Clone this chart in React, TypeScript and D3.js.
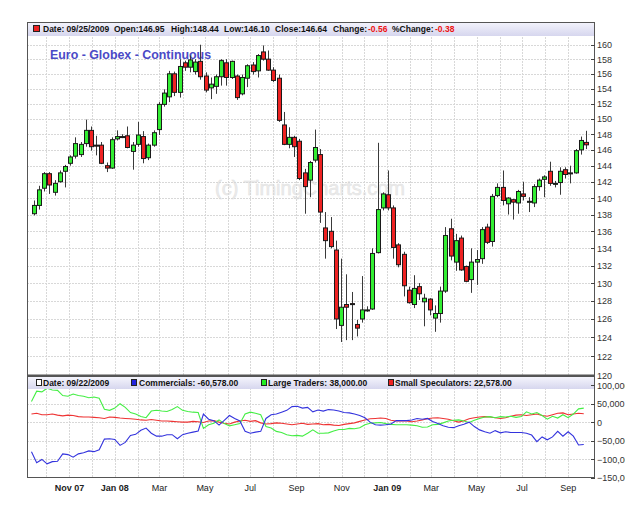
import React, { useRef, useEffect } from "react";
import * as d3 from "d3";

/* weekly OHLC, Euro Globex continuous, first week ending 09/14/2007 */
const opens = [
  138.1, 139.1, 141.2, 143.0, 140.7, 142.0, 143.3, 144.3, 145.2, 145.4,
  146.8, 148.5, 146.6, 146.6, 144.0, 143.7, 147.4, 147.7, 147.8, 145.8,
  146.7, 147.7, 145.0, 146.6, 148.6, 151.9, 152.9, 156.0, 153.5, 157.5,
  156.9, 156.3, 157.7, 155.7, 154.1, 154.3, 155.6, 157.5, 155.5, 155.7,
  153.3, 155.4, 157.2, 156.4, 159.0, 158.0, 156.5, 155.4, 149.2, 146.7,
  147.6, 147.1, 143.1, 142.2, 144.7, 145.4, 136.4, 136.0, 133.8, 125.3,
  127.6, 127.7, 125.4, 126.0, 127.0, 127.1, 133.5, 138.8, 140.4, 138.8,
  134.4, 133.3, 129.2, 127.6, 129.6, 127.9, 128.2, 126.1, 126.6, 129.1,
  136.3, 132.4, 135.2, 131.9, 130.4, 132.4, 132.8, 136.5, 134.8, 140.3,
  141.3, 139.3, 139.8, 139.4, 140.5, 139.6, 139.4, 141.4, 142.3, 143.3,
  141.8, 141.9, 143.5, 143.1, 143.1, 146.0, 146.95,
];
const highs = [
  139.7, 141.5, 143.2, 143.2, 142.2, 143.4, 144.1, 145.3, 147.6, 147.0,
  149.9, 149.0, 147.8, 147.0, 144.4, 147.6, 148.5, 148.0, 149.0, 147.0,
  149.6, 148.4, 146.8, 148.5, 152.2, 153.9, 156.4, 156.3, 158.0, 157.8,
  158.5, 158.0, 160.0, 156.2, 155.5, 155.9, 158.0, 158.0, 157.8, 155.9,
  155.9, 157.3, 157.6, 158.7, 159.9, 159.2, 156.9, 155.9, 150.9, 148.9,
  147.8, 147.4, 143.6, 144.6, 148.6, 146.1, 138.3, 137.7, 134.9, 132.8,
  131.0, 129.0, 125.9, 130.8, 127.4, 134.0, 146.9, 140.7, 143.4, 139.1,
  134.6, 133.6, 129.6, 130.9, 130.0, 128.8, 128.3, 127.5, 129.6, 136.5,
  137.5, 135.7, 135.5, 132.0, 134.0, 133.8, 136.5, 136.9, 140.5, 141.8,
  143.4, 140.1, 139.9, 141.0, 142.0, 140.1, 141.7, 142.4, 142.8, 144.5,
  142.1, 143.8, 143.8, 144.0, 146.1, 147.7, 148.44,
];
const lows = [
  137.9, 138.6, 140.8, 140.5, 140.3, 141.9, 141.3, 144.0, 144.9, 145.1,
  146.4, 145.9, 145.3, 144.2, 143.2, 143.6, 147.2, 147.5, 146.2, 143.5,
  146.4, 144.3, 144.7, 146.4, 147.9, 151.6, 152.2, 153.0, 152.8, 156.4,
  156.2, 155.9, 155.2, 153.5, 152.6, 153.3, 154.4, 154.4, 155.3, 152.5,
  153.1, 154.2, 155.9, 155.5, 157.8, 156.4, 154.9, 149.6, 146.6, 146.2,
  145.1, 142.2, 138.1, 140.1, 144.4, 137.0, 132.8, 134.0, 124.9, 123.5,
  123.7, 123.7, 124.1, 125.6, 126.8, 127.0, 133.4, 138.5, 138.5, 132.8,
  131.8, 128.5, 127.7, 127.2, 128.1, 125.2, 126.4, 124.6, 125.6, 128.9,
  132.6, 131.4, 131.4, 130.1, 128.9, 129.8, 132.2, 134.5, 134.2, 140.1,
  139.1, 138.0, 137.4, 138.1, 139.7, 138.3, 138.9, 140.9, 140.1, 141.5,
  141.3, 140.4, 142.4, 141.8, 143.0, 145.4, 146.1,
];
const closes = [
  139.1, 141.0, 143.0, 141.6, 141.8, 143.1, 143.9, 145.1, 146.8, 146.7,
  148.5, 146.4, 146.5, 144.3, 143.7, 147.3, 147.7, 147.7, 146.3, 146.6,
  147.9, 144.9, 146.6, 148.2, 151.9, 153.4, 156.0, 153.5, 157.0, 156.9,
  157.9, 157.6, 155.6, 153.8, 154.6, 155.6, 157.8, 155.5, 157.7, 152.8,
  155.5, 157.1, 156.3, 158.5, 158.0, 156.5, 155.1, 149.8, 146.7, 147.6,
  146.4, 142.4, 141.4, 144.4, 146.3, 138.3, 134.9, 134.2, 126.0, 127.3,
  127.3, 127.6, 125.0, 127.0, 127.0, 133.4, 138.6, 140.5, 138.8, 134.1,
  132.1, 129.7, 127.8, 129.4, 128.8, 128.3, 127.0, 126.6, 129.1, 135.5,
  133.1, 134.9, 131.5, 130.2, 132.4, 132.7, 136.2, 134.7, 140.2, 141.3,
  139.7, 140.0, 139.5, 140.8, 140.2, 139.6, 141.4, 142.2, 142.6, 141.8,
  141.8, 143.3, 142.9, 143.1, 145.9, 147.2, 146.64,
];

/* COT net positions, weekly (Tuesday) */
const commercials = [
  -80000, -110000, -101000, -113000, -107000, -106000, -86000, -88000, -95000, -86000,
  -83000, -78000, -80000, -75000, -46000, -45000, -47000, -63000, -55000, -36000,
  -33000, -22000, -16000, -30000, -38000, -38000, -34000, -34000, -45000, -34000,
  -30000, -27000, -24000, 22000, 8000, 4000, -8000, 5000, 18000, 10000,
  3000, -25000, -30000, -27000, -25000, 10000, 20000, 22000, 27000, 32000,
  42000, 43000, 38000, 40000, 28000, 33000, 30000, 34000, 33000, 30000,
  26000, 25000, 22000, 18000, 12000, 0, -7000, -8000, -7000, -5000,
  4000, 4000, 4000, 6000, 10000, 8000, 10000, 2000, -4000, -10000,
  -14000, -15000, -10000, -6000, 0, -12000, -21000, -26000, -30000, -23000,
  -29000, -26000, -28000, -28000, -28000, -30000, -35000, -53000, -40000, -48000,
  -40000, -25000, -38000, -26000, -38000, -62000, -60578,
];
const largeTraders = [
  56000, 84000, 82000, 92000, 87000, 86000, 72000, 70000, 76000, 72000,
  70000, 66000, 68000, 65000, 35000, 32000, 38000, 50000, 40000, 26000,
  22000, 15000, 12000, 30000, 32000, 30000, 29000, 34000, 42000, 32000,
  29000, 27000, 26000, -17000, -7000, -3000, 6000, -4000, -10000, -7000,
  -4000, 22000, 27000, 24000, 20000, -12000, -16000, -25000, -28000, -34000,
  -37000, -36000, -38000, -30000, -21000, -30000, -30000, -29000, -24000, -20000,
  -20000, -17000, -18000, -15000, -7000, -3000, -2000, -1000, -4000, -6000,
  -7000, -7000, -7000, -8000, -10000, -14000, -13000, -7000, -6000, -2000,
  3000, 5000, 6000, 3000, -1000, 5000, 10000, 14000, 15000, 12000,
  15000, 14000, 16000, 13000, 15000, 28000, 22000, 26000, 18000, 8000,
  16000, 11000, 20000, 12000, 22000, 36000, 38000,
];
const smallSpeculators = [
  22000, 24000, 20000, 20000, 22000, 19000, 17000, 19000, 18000, 15000,
  14000, 14000, 13000, 12000, 10000, 14000, 13000, 11000, 10000, 9000,
  8000, 6000, 5000, 7000, 5000, 3000, 3000, 2000, 1000, 0,
  0, 2000, 1000, -1000, 3000, 4000, 0, -3000, -5000, 0,
  3000, 5000, 2000, 4000, -2000, -5000, -4000, -2000, -3000, -5000,
  -7000, -5000, -3000, -6000, -5000, -4000, -7000, -6000, -8000, -9000,
  -6000, -4000, -2000, 2000, 6000, 9000, 10000, 11000, 10000, 5000,
  3000, 4000, 3000, 1000, 3000, 6000, 9000, 11000, 12000, 10000,
  8000, 4000, 0, 4000, 9000, 12000, 14000, 15000, 14000, 12000,
  10000, 12000, 16000, 19000, 20000, 18000, 20000, 22000, 18000, 16000,
  20000, 24000, 25000, 20000, 22000, 24000, 22578,
];

const priceTicks = d3.range(120, 161, 2);
const cotTicks = [100000, 50000, 0, -50000, -100000, -150000];
const monthLabels = ["Nov 07", "Jan 08", "Mar", "May", "Jul", "Sep", "Nov", "Jan 09", "Mar", "May", "Jul", "Sep"];

const FONT = "'Liberation Sans', Arial, sans-serif";

const App = () => {
  const svgRef = useRef(null);

  const drawChart = () => {
    const svg = d3.select(svgRef.current);
    svg.selectAll("*").remove();

    const left = 27;
    const right = 595;
    const top = 22;
    const mainBottom = 375;
    const lowTop = 376;
    const lowBottom = 477;

    const firstWeek = new Date(2007, 8, 14);
    const weeks = opens.map((_, i) => d3.timeDay.offset(firstWeek, 7 * i));
    const cotWeeks = weeks.map((d) => d3.timeDay.offset(d, -3));

    const x = d3
      .scaleTime()
      .domain([weeks[0], weeks[weeks.length - 1]])
      .range([33.7, 586]);
    const y = d3.scaleLog().domain([120, 163.2]).range([mainBottom, top]);
    const yc = d3.scaleLinear().domain([-150000, 125000]).range([lowBottom + 0.5, lowTop]);

    const months = d3.timeMonth.range(new Date(2007, 9, 1), new Date(2009, 9, 1));
    const labelMonths = d3.timeMonth.every(2).range(new Date(2007, 10, 1), new Date(2009, 9, 1));

    /* gradients for header bands */
    const defs = svg.append("defs");
    const grad = defs
      .append("linearGradient")
      .attr("id", "band")
      .attr("x1", 0)
      .attr("y1", 0)
      .attr("x2", 0)
      .attr("y2", 1);
    grad.append("stop").attr("offset", "0%").attr("stop-color", "#f4f4fc");
    grad.append("stop").attr("offset", "100%").attr("stop-color", "#d6d6ee");

    svg.append("rect").attr("width", 625).attr("height", 505).attr("fill", "#ffffff");

    /* main panel */
    const main = svg.append("g");
    main
      .append("rect")
      .attr("x", left)
      .attr("y", top)
      .attr("width", right - left)
      .attr("height", mainBottom - top)
      .attr("fill", "#ffffff");

    /* watermark */
    main
      .append("text")
      .attr("x", 215)
      .attr("y", 195)
      .style("font-family", FONT)
      .style("font-size", "20px")
      .attr("fill", "#ececec")
      .attr("stroke", "#e2e2e2")
      .attr("stroke-width", 0.5)
      .text("(c) TimingCharts.com");

    /* grid */
    main
      .selectAll(".hgrid")
      .data(priceTicks.filter((t) => t > 120))
      .enter()
      .append("line")
      .attr("x1", left)
      .attr("x2", right)
      .attr("y1", (d) => Math.round(y(d)) + 0.5)
      .attr("y2", (d) => Math.round(y(d)) + 0.5)
      .attr("stroke", "#d8d8d8")
      .attr("stroke-dasharray", "2,1");
    main
      .selectAll(".vgrid")
      .data(months)
      .enter()
      .append("line")
      .attr("x1", (d) => Math.round(x(d)) + 0.5)
      .attr("x2", (d) => Math.round(x(d)) + 0.5)
      .attr("y1", top)
      .attr("y2", mainBottom)
      .attr("stroke", "#d8d8d8")
      .attr("stroke-dasharray", "2,1");

    /* title */
    main
      .append("text")
      .attr("x", 50)
      .attr("y", 59)
      .style("font-family", FONT)
      .style("font-size", "12.4px")
      .style("font-weight", "bold")
      .attr("fill", "#4a4ac6")
      .text("Euro - Globex - Continuous");

    /* candles */
    const candles = main
      .selectAll(".candle")
      .data(opens.map((o, i) => i))
      .enter()
      .append("g");
    candles
      .append("line")
      .attr("x1", (i) => Math.round(x(weeks[i])) + 0.5)
      .attr("x2", (i) => Math.round(x(weeks[i])) + 0.5)
      .attr("y1", (i) => y(highs[i]))
      .attr("y2", (i) => y(lows[i]))
      .attr("stroke", "#3a3a3a")
      .attr("stroke-width", 1);
    candles
      .append("rect")
      .attr("x", (i) => Math.round(x(weeks[i])) - 1.5)
      .attr("width", 4)
      .attr("y", (i) => y(Math.max(opens[i], closes[i])))
      .attr("height", (i) => Math.max(1, Math.abs(y(opens[i]) - y(closes[i]))))
      .attr("fill", (i) => (closes[i] >= opens[i] ? "#33ee33" : "#ee2222"))
      .attr("stroke", "#1a1a1a")
      .attr("stroke-width", 1);

    /* main header band */
    main
      .append("rect")
      .attr("x", left)
      .attr("y", top)
      .attr("width", right - left)
      .attr("height", 14)
      .attr("fill", "url(#band)");
    main
      .append("rect")
      .attr("x", 33.5)
      .attr("y", 25.5)
      .attr("width", 6)
      .attr("height", 6)
      .attr("fill", "#ee2222")
      .attr("stroke", "#222");
    const hdr = [
      { x: 43, t: "Date: 09/25/2009", c: "#111" },
      { x: 114, t: "Open:146.95", c: "#111" },
      { x: 171, t: "High:148.44", c: "#111" },
      { x: 224, t: "Low:146.10", c: "#111" },
      { x: 275, t: "Close:146.64", c: "#111" },
      { x: 333, t: "Change:", c: "#111" },
      { x: 368, t: "-0.56", c: "#ee1111" },
      { x: 392, t: "%Change:", c: "#111" },
      { x: 435, t: "-0.38", c: "#ee1111" },
    ];
    main
      .selectAll(".hdr")
      .data(hdr)
      .enter()
      .append("text")
      .attr("x", (d) => d.x)
      .attr("y", 32)
      .style("font-family", FONT)
      .style("font-size", "8.5px")
      .style("font-weight", "bold")
      .attr("fill", (d) => d.c)
      .text((d) => d.t);

    main
      .append("rect")
      .attr("x", left + 0.5)
      .attr("y", top + 0.5)
      .attr("width", right - left - 1)
      .attr("height", mainBottom - top)
      .attr("fill", "none")
      .attr("stroke", "#555");

    /* price axis */
    main
      .selectAll(".ptick")
      .data(priceTicks)
      .enter()
      .append("line")
      .attr("x1", right - 4)
      .attr("x2", right)
      .attr("y1", (d) => Math.round(y(d)) + 0.5)
      .attr("y2", (d) => Math.round(y(d)) + 0.5)
      .attr("stroke", "#444");
    main
      .selectAll(".plabel")
      .data(priceTicks)
      .enter()
      .append("text")
      .attr("x", right + 2)
      .attr("y", (d) => y(d) + 3.5)
      .style("font-family", FONT)
      .style("font-size", "9px")
      .attr("fill", "#333")
      .text((d) => d);

    /* lower panel */
    const low = svg.append("g");
    low
      .selectAll(".lhgrid")
      .data([50000, 0, -50000, -100000])
      .enter()
      .append("line")
      .attr("x1", left)
      .attr("x2", right)
      .attr("y1", (d) => Math.round(yc(d)) + 0.5)
      .attr("y2", (d) => Math.round(yc(d)) + 0.5)
      .attr("stroke", "#d8d8d8")
      .attr("stroke-dasharray", "2,1");
    low
      .selectAll(".lvgrid")
      .data(months)
      .enter()
      .append("line")
      .attr("x1", (d) => Math.round(x(d)) + 0.5)
      .attr("x2", (d) => Math.round(x(d)) + 0.5)
      .attr("y1", lowTop)
      .attr("y2", lowBottom)
      .attr("stroke", "#d8d8d8")
      .attr("stroke-dasharray", "2,1");

    const series = [
      { vals: smallSpeculators, color: "#ee3333" },
      { vals: largeTraders, color: "#44ee44" },
      { vals: commercials, color: "#3333dd" },
    ];
    series.forEach((s) => {
      const line = d3
        .line()
        .x((d, i) => x(cotWeeks[i]))
        .y((d) => yc(d));
      low
        .append("path")
        .datum(s.vals)
        .attr("fill", "none")
        .attr("stroke", s.color)
        .attr("stroke-width", 1.1)
        .attr("d", line);
    });

    low
      .append("rect")
      .attr("x", left)
      .attr("y", lowTop + 1)
      .attr("width", right - left)
      .attr("height", 12)
      .attr("fill", "url(#band)");
    const legend = [
      { x: 36, sq: "#ffffff", t: "Date: 09/22/2009", tx: 43 },
      { x: 131, sq: "#2222dd", t: "Commercials: -60,578.00", tx: 139 },
      { x: 261, sq: "#22ee22", t: "Large Traders: 38,000.00", tx: 268 },
      { x: 388, sq: "#ee2222", t: "Small Speculators: 22,578.00", tx: 395 },
    ];
    low
      .selectAll(".lsq")
      .data(legend)
      .enter()
      .append("rect")
      .attr("x", (d) => d.x + 0.5)
      .attr("y", 379.5)
      .attr("width", 5)
      .attr("height", 6)
      .attr("fill", (d) => d.sq)
      .attr("stroke", "#222");
    low
      .selectAll(".ltxt")
      .data(legend)
      .enter()
      .append("text")
      .attr("x", (d) => d.tx)
      .attr("y", 386)
      .style("font-family", FONT)
      .style("font-size", "8.5px")
      .style("font-weight", "bold")
      .attr("fill", "#111")
      .text((d) => d.t);

    low
      .append("rect")
      .attr("x", left + 0.5)
      .attr("y", lowTop + 0.5)
      .attr("width", right - left - 1)
      .attr("height", lowBottom - lowTop)
      .attr("fill", "none")
      .attr("stroke", "#555");
    /* thick divider between panels */
    svg
      .append("rect")
      .attr("x", left)
      .attr("y", mainBottom - 0.5)
      .attr("width", right - left)
      .attr("height", 2)
      .attr("fill", "#555");

    low
      .selectAll(".ctick")
      .data(cotTicks)
      .enter()
      .append("line")
      .attr("x1", right - 4)
      .attr("x2", right)
      .attr("y1", (d) => Math.round(yc(d)) + 0.5)
      .attr("y2", (d) => Math.round(yc(d)) + 0.5)
      .attr("stroke", "#444");
    low
      .selectAll(".clabel")
      .data(cotTicks)
      .enter()
      .append("text")
      .attr("x", right + 2)
      .attr("y", (d) => yc(d) + 3.5)
      .style("font-family", FONT)
      .style("font-size", "9px")
      .attr("fill", "#333")
      .text((d) => d3.format(",")(d));

    /* x axis labels */
    low
      .selectAll(".xlabel")
      .data(labelMonths)
      .enter()
      .append("text")
      .attr("x", (d) => x(d))
      .attr("y", 491)
      .attr("text-anchor", "middle")
      .style("font-family", FONT)
      .style("font-size", "9px")
      .style("font-weight", (d, i) => (monthLabels[i].length > 3 ? "bold" : "normal"))
      .attr("fill", "#222")
      .text((d, i) => monthLabels[i]);
  };

  useEffect(() => {
    drawChart();
  }, []);

  return (
    <svg
      ref={svgRef}
      width={625}
      height={505}
      style={{ position: "absolute", left: 0, top: 0 }}
    />
  );
};

export default App;
